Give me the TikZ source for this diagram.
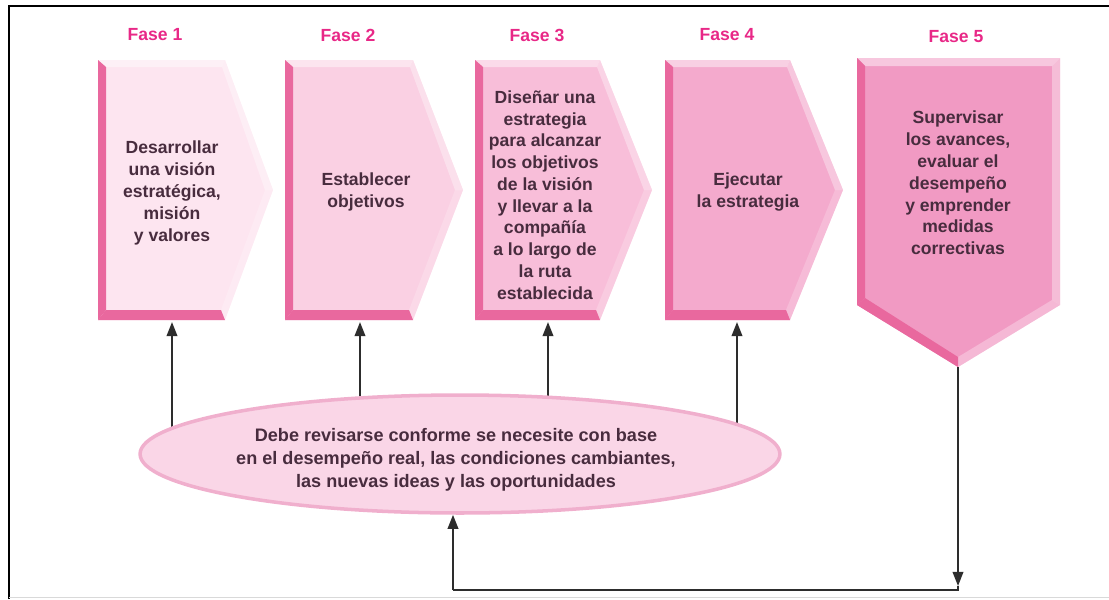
\documentclass[tikz,border=0pt]{standalone}
\usepackage{fontspec}
\setmainfont{Liberation Sans}
\usetikzlibrary{shapes.geometric,arrows.meta,backgrounds}

\definecolor{fasepink}{RGB}{232,40,135}
\definecolor{txtdark}{RGB}{72,44,62}
\definecolor{edgepink}{RGB}{233,104,158}
\definecolor{c1}{RGB}{253,229,240}
\definecolor{c2}{RGB}{250,208,227}
\definecolor{c3}{RGB}{248,190,217}
\definecolor{c4}{RGB}{244,170,205}
\definecolor{c5}{RGB}{241,154,195}
\definecolor{ellfill}{RGB}{250,214,231}
\definecolor{elldraw}{RGB}{240,175,205}
\definecolor{linegray}{RGB}{45,45,45}

\tikzset{
  phasetitle/.style={text=fasepink,font=\bfseries},
  phasetext/.style={text=txtdark,font=\fontsize{10}{12.4}\selectfont\bfseries,align=center,inner sep=0pt},
  link/.style={draw=linegray,line width=1.1pt,-{Triangle[length=8pt,width=6pt]}},
  plainline/.style={draw=linegray,line width=1.1pt}
}

\begin{document}
\begin{tikzpicture}
  [x=0.02cm,y=-0.02cm]
  \useasboundingbox (0,0) rectangle (1109,599);
  \draw[line width=1.5pt] (9,599) -- (9,6) -- (1109,6);
  \draw[black!15] (9,597) -- (1109,597);

  % arrow shaped boxes, phases 1 to 4
  \foreach \x/\c/\t/\col in {98/225/273/c1,285/413/463/c2,475/600/652/c3,665/790/843/c4} {
    \fill[\col] (\x,60) -- (\c,60) -- (\t,190) -- (\c,320) -- (\x,320) -- cycle;
    \fill[white,opacity=.45] (\x,60) -- (\c,60) -- (\c-3,67) -- (\x+8,67) -- cycle;
    \fill[white,opacity=.35] (\c,60) -- (\t,190) -- (\t-8,190) -- (\c-3,67) -- cycle;
    \fill[white,opacity=.2] (\t,190) -- (\c,320) -- (\c-4,310) -- (\t-8,190) -- cycle;
    \fill[edgepink] (\x,60) -- (\x+8,67) -- (\x+8,310) -- (\x,320) -- cycle;
    \fill[edgepink] (\x,320) -- (\x+8,310) -- (\c-4,310) -- (\c,320) -- cycle;
  }

  % phase 5 points down
  \fill[c5] (857,58) -- (1060,58) -- (1060,305) -- (958,367) -- (857,305) -- cycle;
  \fill[white,opacity=.45] (857,58) -- (1060,58) -- (1052,66) -- (865,66) -- cycle;
  \fill[white,opacity=.35] (1060,58) -- (1060,305) -- (1052,300) -- (1052,66) -- cycle;
  \fill[white,opacity=.3] (1060,305) -- (958,367) -- (958,357) -- (1052,300) -- cycle;
  \fill[edgepink] (857,58) -- (865,66) -- (865,298) -- (857,305) -- cycle;
  \fill[edgepink] (857,305) -- (865,298) -- (958,357) -- (958,367) -- cycle;

  \node[phasetitle] (f1) at (155,35) {Fase 1};
  \node[phasetitle] (f2) at (348,35) {Fase 2};
  \node[phasetitle] (f3) at (537,35) {Fase 3};
  \node[phasetitle] (f4) at (727,35) {Fase 4};
  \node[phasetitle] (f5) at (956,37) {Fase 5};

  \node[phasetext] (t1) at (172,193) {Desarrollar\\una visión\\estratégica,\\misión\\y valores};
  \node[phasetext] (t2) at (366,192) {Establecer\\objetivos};
  \node[phasetext] (t3) at (545,195) {Diseñar una\\estrategia\\para alcanzar\\los objetivos\\de la visión\\y llevar a la\\compañía\\a lo largo de\\la ruta\\establecida};
  \node[phasetext] (t4) at (748,192) {Ejecutar\\la estrategia};
  \node[phasetext] (t5) at (958,183) {Supervisar\\los avances,\\evaluar el\\desempeño\\y emprender\\medidas\\correctivas};

  \node[ellipse,fill=ellfill,draw=elldraw,line width=2pt,minimum width=12.8cm,minimum height=2.36cm]
    (ell) at (460,454) {};
  \node[text=txtdark,font=\fontsize{10.3}{13}\selectfont\bfseries,align=center,inner sep=0pt]
    (elltext) at (456,460) {Debe revisarse conforme se necesite con base\\en el desempeño real, las condiciones cambiantes,\\las nuevas ideas y las oportunidades};

  \coordinate (b1) at (172,322);
  \coordinate (b2) at (360,322);
  \coordinate (b3) at (548,322);
  \coordinate (b4) at (737,322);
  \coordinate (p5) at (958,367);
  \coordinate (a5) at (958,586);
  \coordinate (k1) at (958,590);
  \coordinate (k2) at (453,590);

  \begin{pgfonlayer}{background}
    \foreach \b in {b1,b2,b3,b4}
      \draw[link] (\b |- ell.center) -- (\b);
  \end{pgfonlayer}

  \draw[link] (p5) -- (a5);
  \draw[plainline] (a5) -- (k1) -- (k2);
  \draw[link] (k2) -- (k2 |- ell.south);

\end{tikzpicture}
\end{document}
